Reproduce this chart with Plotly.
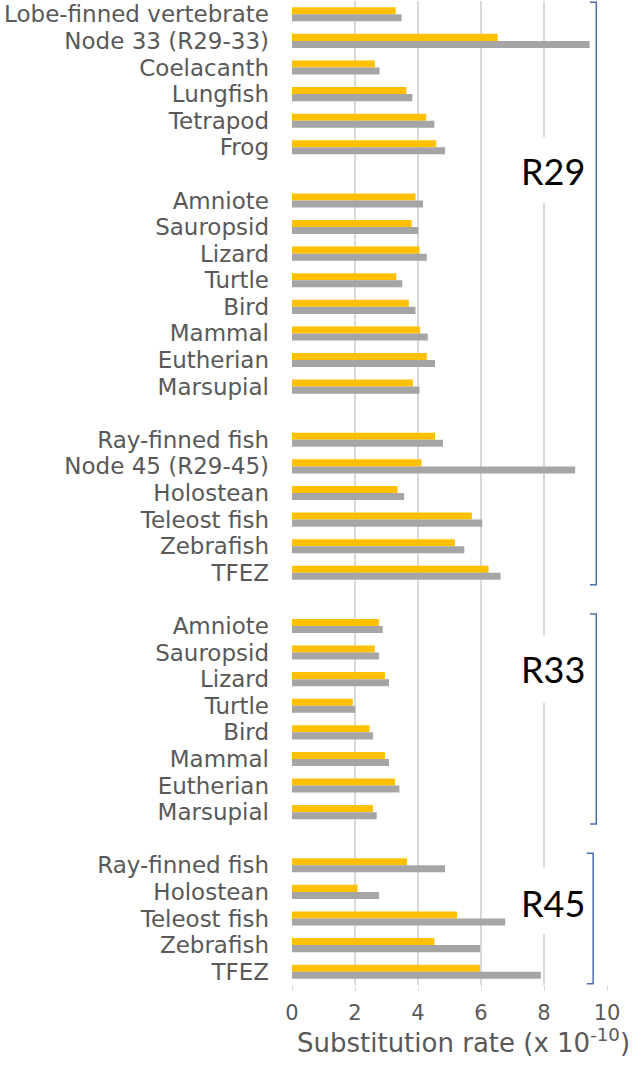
import plotly.graph_objects as go

# Category labels, top to bottom ("" = blank spacer slot between groups)
labels = [
    "Lobe-finned vertebrate", "Node 33 (R29-33)", "Coelacanth", "Lungfish", "Tetrapod", "Frog",
    "",
    "Amniote", "Sauropsid", "Lizard", "Turtle", "Bird", "Mammal", "Eutherian", "Marsupial",
    "",
    "Ray-finned fish", "Node 45 (R29-45)", "Holostean", "Teleost fish", "Zebrafish", "TFEZ",
    "",
    "Amniote", "Sauropsid", "Lizard", "Turtle", "Bird", "Mammal", "Eutherian", "Marsupial",
    "",
    "Ray-finned fish", "Holostean", "Teleost fish", "Zebrafish", "TFEZ",
]

# Series values (x 10^-10)
orange_vals = [
    3.29, 6.53, 2.63, 3.63, 4.26, 4.58,
    None,
    3.92, 3.80, 4.05, 3.31, 3.71, 4.07, 4.28, 3.84,
    None,
    4.54, 4.11, 3.35, 5.71, 5.17, 6.24,
    None,
    2.76, 2.63, 2.95, 1.93, 2.46, 2.95, 3.27, 2.57,
    None,
    3.65, 2.08, 5.24, 4.52, 5.97,
]
gray_vals = [
    3.48, 9.45, 2.78, 3.82, 4.52, 4.86,
    None,
    4.16, 4.01, 4.28, 3.50, 3.92, 4.31, 4.54, 4.05,
    None,
    4.79, 8.99, 3.56, 6.04, 5.47, 6.62,
    None,
    2.88, 2.76, 3.08, 2.01, 2.57, 3.08, 3.41, 2.69,
    None,
    4.86, 2.76, 6.77, 5.97, 7.90,
]

x_ticks = [0, 2, 4, 6, 8, 10]

# Region brackets: name, first slot, last slot
regions = [("R29", 0, 21), ("R33", 23, 30), ("R45", 32, 36)]

positions = list(range(len(labels)))
tick_pos = [p for p, l in zip(positions, labels) if l]
tick_txt = [l for l in labels if l]

LABEL_FONT = "DejaVu Sans"
fig = go.Figure()
fig.add_trace(go.Bar(y=positions, x=orange_vals, orientation="h", name="Series 1",
                     marker=dict(color="#FFC000", line=dict(width=0))))
fig.add_trace(go.Bar(y=positions, x=gray_vals, orientation="h", name="Series 2",
                     marker=dict(color="#A5A5A5", line=dict(width=0))))

fig.update_layout(
    width=633, height=1067,
    margin=dict(l=292, r=26, t=1, b=82),
    paper_bgcolor="white", plot_bgcolor="white",
    barmode="group", bargap=0.47, bargroupgap=0,
    showlegend=False,
    font=dict(family=LABEL_FONT, color="#595959"),
)
fig.update_xaxes(
    range=[0, 10], tickvals=x_ticks, ticktext=[str(v) for v in x_ticks],
    showgrid=True, gridcolor="#D9D9D9", gridwidth=1.5,
    zeroline=False, showline=False,
    ticks="outside", ticklen=5, tickcolor="#D9D9D9",
    ticklabelstandoff=4,
    tickfont=dict(size=21, family=LABEL_FONT, color="#595959"),
)
fig.update_yaxes(
    range=[len(labels) - 0.5, -0.5],
    tickvals=tick_pos, ticktext=tick_txt,
    showgrid=False, zeroline=False, showline=False, ticks="",
    ticklabelstandoff=22,
    tickfont=dict(size=23, family=LABEL_FONT, color="#595959"),
)

# axis title
fig.add_annotation(
    text="Substitution rate (x 10<sup>-10</sup>)",
    xref="paper", yref="paper", x=1.08, y=-0.0565, yanchor="middle", xanchor="right",
    showarrow=False, font=dict(size=26, family=LABEL_FONT, color="#595959"),
)

# region label backgrounds (break the gridline), brackets and labels
bracket_x = {"R29": 9.66, "R33": 9.66, "R45": 9.56}
label_y = {"R29": 5.9, "R33": 24.6, "R45": 33.4}
label_bg = {"R29": (4.62, 7.1), "R33": (23.35, 25.9), "R45": (32.07, 34.59)}
for name, a, b in regions:
    yb0, yb1 = label_bg[name]
    fig.add_shape(type="rect", x0=7.6, x1=9.0, y0=yb0, y1=yb1, xref="x", yref="y",
                  fillcolor="white", line=dict(width=0), layer="above")
for name, a, b in regions:
    xb = bracket_x[name]
    xt = xb - 0.2
    y0 = a - 0.45
    y1 = b + 0.45
    fig.add_shape(type="path",
                  path=f"M {xt} {y0} L {xb} {y0} L {xb} {y1} L {xt} {y1}",
                  xref="x", yref="y", line=dict(color="#4A6DB0", width=1.5),
                  layer="above")
    fig.add_annotation(text=name, x=8.29, y=label_y[name], xref="x", yref="y",
                       showarrow=False,
                       font=dict(size=36, family="Lato", color="black"))

fig.write_html("out.html", config={"displayModeBar": False},
               post_script="document.body.style.margin='0';")
